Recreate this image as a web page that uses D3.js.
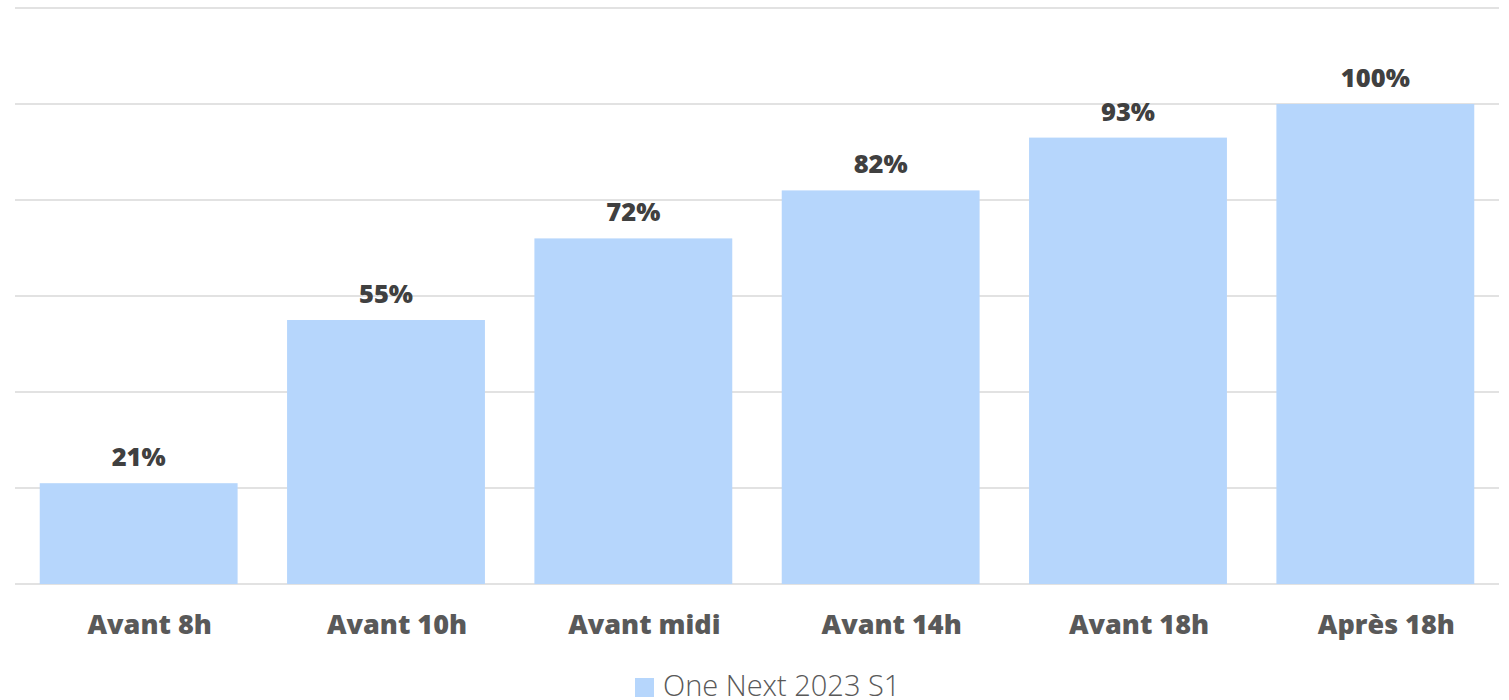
<!DOCTYPE html>
<html>
<head>
<meta charset="utf-8">
<script src="https://cdn.jsdelivr.net/npm/d3@7"></script>
<style>
  html, body { margin: 0; padding: 0; background: #fff; }
  svg { display: block; }
</style>
</head>
<body>
<div id="vis"></div>
<script>
// chart data
const categories = ["Avant 8h", "Avant 10h", "Avant midi", "Avant 14h", "Avant 18h", "Après 18h"];
const values = [21, 55, 72, 82, 93, 100];
const gridTicks = [0, 20, 40, 60, 80, 100, 120];
const seriesName = "One Next 2023 S1";

const W = 1509, H = 700;
const barColor = "#b6d6fc";

const svg = d3.select("#vis").append("svg")
  .attr("width", W)
  .attr("height", H);

const x = d3.scaleBand()
  .domain(categories)
  .range([15, 1499])
  .paddingInner(0.2)
  .paddingOuter(0.1);

const y = d3.scaleLinear()
  .domain([0, 120])
  .range([584, 8]);

// gridlines
svg.append("g")
  .selectAll("line")
  .data(gridTicks)
  .join("line")
  .attr("x1", 15)
  .attr("x2", 1499)
  .attr("y1", d => y(d))
  .attr("y2", d => y(d))
  .attr("stroke", "#d9d9d9")
  .attr("stroke-width", 1.5);

// bars
svg.append("g")
  .selectAll("rect")
  .data(values)
  .join("rect")
  .attr("x", (d, i) => x(categories[i]))
  .attr("width", x.bandwidth())
  .attr("y", d => y(d))
  .attr("height", d => y(0) - y(d))
  .attr("fill", barColor);

// value labels
svg.append("g")
  .selectAll("text")
  .data(values)
  .join("text")
  .attr("x", (d, i) => x(categories[i]) + x.bandwidth() / 2)
  .attr("y", d => y(d) - 17)
  .attr("text-anchor", "middle")
  .style("font-family", "'Open Sans', sans-serif")
  .style("font-weight", 800)
  .style("font-size", "25.5px")
  .style("fill", "#404040")
  .text(d => d + "%");

// category axis labels (sit a little right of the bar centres, as in the source)
svg.append("g")
  .selectAll("text")
  .data(categories)
  .join("text")
  .attr("x", d => x(d) + x.bandwidth() / 2 + 11)
  .attr("y", 634)
  .attr("text-anchor", "middle")
  .style("font-family", "'Open Sans', sans-serif")
  .style("font-weight", 800)
  .style("font-size", "27px")
  .style("fill", "#595959")
  .text(d => d);

// legend
const legend = svg.append("g");
legend.append("rect")
  .attr("x", 635)
  .attr("y", 678)
  .attr("width", 19)
  .attr("height", 19)
  .attr("fill", barColor);
legend.append("text")
  .attr("x", 663)
  .attr("y", 696)
  .style("font-family", "'Open Sans', sans-serif")
  .style("font-weight", 300)
  .style("font-size", "29px")
  .style("fill", "#595959")
  .text(seriesName);
</script>
</body>
</html>
